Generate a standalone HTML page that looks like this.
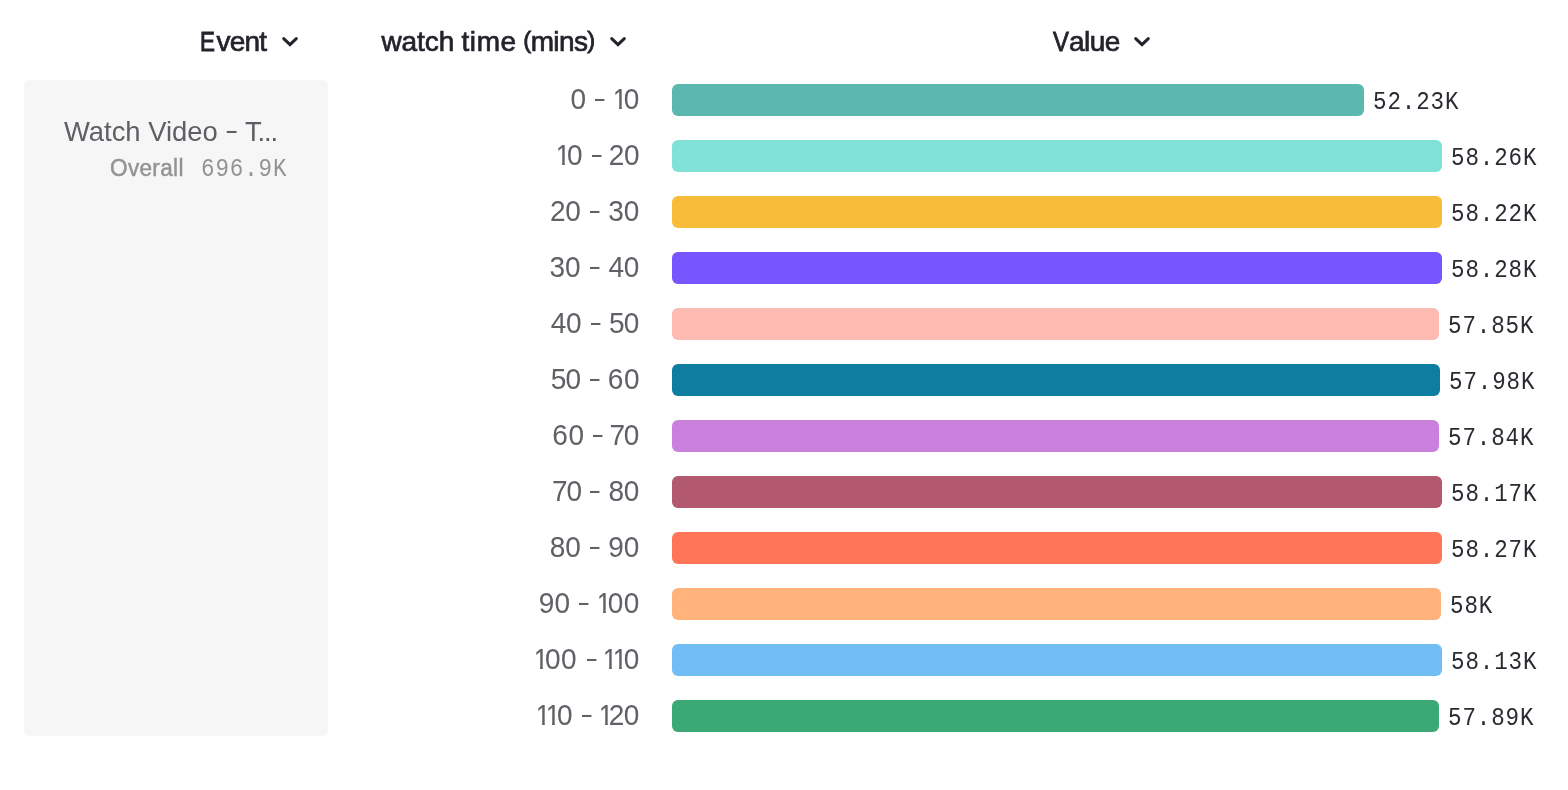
<!DOCTYPE html>
<html lang="en">
<head>
<meta charset="utf-8">
<title>Insights chart</title>
<style>
html,body{margin:0;padding:0;background:#fff;}
body{width:1568px;height:790px;position:relative;overflow:hidden;font-family:"Liberation Sans",sans-serif;}
.h{position:absolute;top:22px;height:40px;line-height:40px;font-size:28px;letter-spacing:-0.75px;color:#23232b;white-space:nowrap;-webkit-text-stroke:0.7px #23232b;}
.h .c{display:inline-block;transform-origin:0 50%;}
.h .p{font-size:23.7px;position:relative;top:-3.3px;-webkit-text-stroke-width:0.8px;}
.chev{position:absolute;top:32.3px;width:20px;height:20px;overflow:visible;}
.chev path{fill:none;stroke:#23232b;stroke-width:3;stroke-linecap:round;stroke-linejoin:miter;}
.panel{position:absolute;left:24px;top:80px;width:304px;height:656px;border-radius:6px;background:#f6f6f6;}
.ev{position:absolute;left:40px;top:32px;width:224px;height:40px;line-height:40px;font-size:27.4px;color:#5e5e64;white-space:nowrap;overflow:hidden;}
.ev .d{display:inline-block;margin:0 1.6px 0 1.2px;transform:translateY(-1.2px) scale(1.46,0.95);}
.ev .t{letter-spacing:-1.1px;}
.ov{position:absolute;left:85.5px;top:70px;height:36px;line-height:36px;white-space:nowrap;color:#939395;font-size:24px;letter-spacing:0.35px;-webkit-text-stroke:0.5px #939395;transform:scale(0.94,0.985);transform-origin:0 26px;}
.ovn{position:absolute;left:176.5px;top:72px;height:36px;line-height:36px;white-space:nowrap;color:#939395;}
.m{font-family:"Liberation Mono",monospace;font-size:25px;letter-spacing:1px;transform:scaleX(0.9);transform-origin:0 50%;}
.row{position:absolute;left:344px;width:1224px;height:56px;}
.lab{position:absolute;left:0;top:8px;width:312px;height:40px;line-height:40px;font-size:28px;color:#606066;white-space:nowrap;transform:scaleY(1.055);transform-origin:0 29px;}
.lab span{position:absolute;top:0;}
.lab .o{position:static;display:inline-block;width:11.1px;margin-left:-1.55px;letter-spacing:0;transform:scaleX(0.9);transform-origin:0 50%;-webkit-text-stroke:0.2px #606066;clip-path:polygon(0 0,16px 0,16px 26.2px,9.75px 26.2px,9.75px 100%,6.8px 100%,6.8px 26.2px,0 26.2px);}
.lab .o2{margin-right:-1.4px;}
.lab .o:first-child{margin-left:0;}
.lab .d{transform:translateY(-1.3px) scale(1.38,0.9);}
.bar{position:absolute;left:328px;top:12px;height:32px;border-radius:6px;box-sizing:border-box;}
.val{position:absolute;top:12px;height:32px;line-height:38px;color:#2a2a32;white-space:nowrap;}
</style>
</head>
<body>
<div class="h" style="left:199.5px"><span class="c" style="width:16.9px;transform:scaleX(0.8);-webkit-text-stroke-width:1px">E</span>vent</div>
<svg class="chev" style="left:280.1px" viewBox="0 0 20 20"><path d="M3.7 6.6 L10 12.7 L16.3 6.6"/></svg>
<div class="h" style="left:381.5px;letter-spacing:-0.3px"><span style="letter-spacing:-0.1px;margin-right:-0.2px">watch</span> <span style="letter-spacing:0.6px;margin-right:-0.9px">time</span> <span style="letter-spacing:-0.6px"><span class="p">(</span>mins<span class="p">)</span></span></div>
<svg class="chev" style="left:608.1px" viewBox="0 0 20 20"><path d="M3.7 6.6 L10 12.7 L16.3 6.6"/></svg>
<div class="h" style="left:1053px;letter-spacing:-0.55px"><span class="c" style="margin-right:-2.2px;transform:scaleX(0.85);-webkit-text-stroke-width:0.9px">V</span>alue</div>
<svg class="chev" style="left:1132px" viewBox="0 0 20 20"><path d="M3.7 6.6 L10 12.7 L16.3 6.6"/></svg>
<div class="panel">
  <div class="ev">Watch Video <span class="d">-</span> <span class="t">T...</span></div>
  <div class="ov">Overall</div>
  <div class="ovn m">696.9K</div>
</div>
<div class="row" style="top:72px"><div class="lab"><span class="n" style="left:226.60px;letter-spacing:0.00px">0</span> <span class="d" style="left:251.00px">-</span> <span class="n" style="left:268.75px;letter-spacing:-0.35px"><span class="o">1</span>0</span></div><div class="bar" style="width:692px;background:#5bb7af"></div><div class="val m" style="left:1029.1px">52.23K</div></div>
<div class="row" style="top:128px"><div class="lab"><span class="n" style="left:211.80px;letter-spacing:-0.35px"><span class="o">1</span>0</span> <span class="d" style="left:248.00px">-</span> <span class="n" style="left:264.65px;letter-spacing:-0.33px">20</span></div><div class="bar" style="width:770px;background:#80e1d9"></div><div class="val m" style="left:1107.1px">58.26K</div></div>
<div class="row" style="top:184px"><div class="lab"><span class="n" style="left:206.10px;letter-spacing:-0.33px">20</span> <span class="d" style="left:246.00px">-</span> <span class="n" style="left:264.30px;letter-spacing:-0.12px">30</span></div><div class="bar" style="width:770px;background:#f8bc3b"></div><div class="val m" style="left:1107.1px">58.22K</div></div>
<div class="row" style="top:240px"><div class="lab"><span class="n" style="left:205.60px;letter-spacing:-0.12px">30</span> <span class="d" style="left:246.00px">-</span> <span class="n" style="left:264.45px;letter-spacing:-0.15px">40</span></div><div class="bar" style="width:770px;background:#7856ff"></div><div class="val m" style="left:1107.1px">58.28K</div></div>
<div class="row" style="top:296px"><div class="lab"><span class="n" style="left:206.70px;letter-spacing:-0.15px">40</span> <span class="d" style="left:247.00px">-</span> <span class="n" style="left:264.90px;letter-spacing:-0.72px">50</span></div><div class="bar" style="width:767px;background:#febbb2"></div><div class="val m" style="left:1104.1px">57.85K</div></div>
<div class="row" style="top:352px"><div class="lab"><span class="n" style="left:206.65px;letter-spacing:-0.72px">50</span> <span class="d" style="left:246.00px">-</span> <span class="n" style="left:263.85px;letter-spacing:0.48px">60</span></div><div class="bar" style="width:768px;background:#0d7ea0"></div><div class="val m" style="left:1105.1px">57.98K</div></div>
<div class="row" style="top:408px"><div class="lab"><span class="n" style="left:208.35px;letter-spacing:0.48px">60</span> <span class="d" style="left:249.00px">-</span> <span class="n" style="left:265.45px;letter-spacing:-1.20px">70</span></div><div class="bar" style="width:767px;background:#ca80dc"></div><div class="val m" style="left:1104.1px">57.84K</div></div>
<div class="row" style="top:464px"><div class="lab"><span class="n" style="left:208.05px;letter-spacing:-1.20px">70</span> <span class="d" style="left:246.00px">-</span> <span class="n" style="left:264.55px;letter-spacing:-0.27px">80</span></div><div class="bar" style="width:770px;background:#b2596e"></div><div class="val m" style="left:1107.1px">58.17K</div></div>
<div class="row" style="top:520px"><div class="lab"><span class="n" style="left:205.85px;letter-spacing:-0.27px">80</span> <span class="d" style="left:246.00px">-</span> <span class="n" style="left:264.20px;letter-spacing:0.07px">90</span></div><div class="bar" style="width:770px;background:#ff7557"></div><div class="val m" style="left:1107.1px">58.27K</div></div>
<div class="row" style="top:576px"><div class="lab"><span class="n" style="left:194.85px;letter-spacing:0.07px">90</span> <span class="d" style="left:235.00px">-</span> <span class="n" style="left:252.70px;letter-spacing:0.50px"><span class="o">1</span>00</span></div><div class="bar" style="width:769px;background:#ffb27a"></div><div class="val m" style="left:1106.1px">58K</div></div>
<div class="row" style="top:632px"><div class="lab"><span class="n" style="left:189.85px;letter-spacing:0.50px"><span class="o">1</span>00</span> <span class="d" style="left:242.50px">-</span> <span class="n" style="left:259.15px;letter-spacing:-0.20px"><span class="o">1</span><span class="o">1</span>0</span></div><div class="bar" style="width:770px;background:#72bef4"></div><div class="val m" style="left:1107.1px">58.13K</div></div>
<div class="row" style="top:688px"><div class="lab"><span class="n" style="left:192.35px;letter-spacing:-0.20px"><span class="o">1</span><span class="o">1</span>0</span> <span class="d" style="left:238.00px">-</span> <span class="n" style="left:254.95px;letter-spacing:-0.40px"><span class="o o2">1</span>20</span></div><div class="bar" style="width:767px;background:#3ba974"></div><div class="val m" style="left:1104.1px">57.89K</div></div>
</body>
</html>
